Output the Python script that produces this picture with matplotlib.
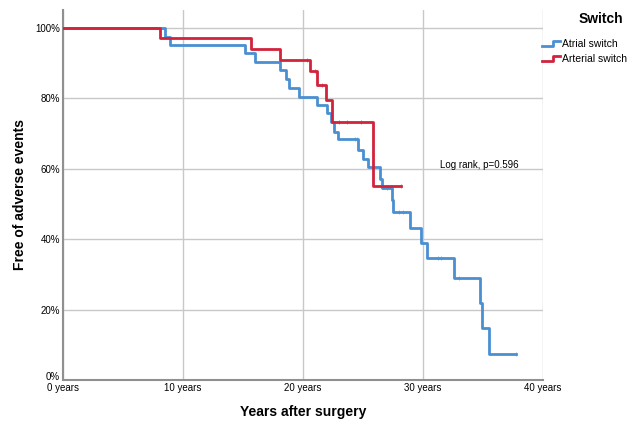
import matplotlib
matplotlib.use("Agg")
import matplotlib.pyplot as plt
from matplotlib.legend_handler import HandlerLine2D
from matplotlib.lines import Line2D
from matplotlib.transforms import ScaledTranslation

plt.rcParams['font.family'] = ['Liberation Sans', 'DejaVu Sans']

# ---------------------------
# Data (years, % event-free)
# ---------------------------
atrial_t = [0, 8.5, 8.9, 15.2, 16.0, 18.1, 18.55, 18.8, 19.7, 21.2, 22.0, 22.3, 22.6, 22.9,
            24.6, 25.0, 25.4, 26.4, 26.6, 27.4, 27.5, 28.9, 29.8, 30.3, 32.6, 34.7, 34.9, 35.5]
atrial_s = [100, 97.5, 95.2, 92.9, 90.4, 87.9, 85.5, 82.9, 80.3, 78.1, 75.8, 73.2, 70.5, 68.4,
            65.3, 62.9, 60.4, 57.2, 54.6, 51.1, 47.8, 43.3, 39.0, 34.6, 28.9, 21.8, 14.7, 7.4]
atrial_end = 37.7
atrial_cens_t = [24.3, 24.5, 27.0, 28.0, 28.3, 31.2, 31.5, 33.0, 37.7]
atrial_cens_s = [68.4, 68.4, 54.6, 47.8, 47.8, 34.6, 34.6, 28.9, 7.4]

arterial_t = [0, 8.1, 15.7, 18.1, 20.6, 21.2, 21.9, 22.45, 25.8]
arterial_s = [100, 97.1, 94.0, 90.9, 87.8, 83.8, 79.5, 73.4, 55.1]
arterial_end = 28.2
arterial_cens_t = [20.3, 21.0, 21.6, 23.0, 23.7, 24.8, 28.2]
arterial_cens_s = [90.9, 87.8, 83.8, 73.4, 73.4, 73.4, 55.1]

x_ticks = [0, 10, 20, 30, 40]
x_labels = ['0 years', '10 years', '20 years', '30 years', '40 years']
y_ticks = [0, 20, 40, 60, 80, 100]
y_labels = ['0%', '20%', '40%', '60%', '80%', '100%']

BLUE = '#4a8fd2'
RED = '#d2233c'


class StepHandler(HandlerLine2D):
    """Draws a small step shape as the legend key."""
    def create_artists(self, legend, orig_handle, xdescent, ydescent, width, height, fontsize, trans):
        x0, x1 = -xdescent, -xdescent + width
        y0, y1 = -ydescent + height * 0.15, -ydescent + height * 0.85
        xm = x0 + width * 0.6
        line = Line2D([x0, xm, xm, x1], [y0, y0, y1, y1],
                      color=orig_handle.get_color(), lw=orig_handle.get_linewidth())
        line.set_transform(trans)
        return [line]


def draw_curve(ax, t, s, end, ct, cs, color, label):
    xs = list(t) + [end]
    ys = list(s) + [s[-1]]
    ax.step(xs, ys, where='post', color=color, lw=2, label=label, zorder=3)
    ax.plot(ct, cs, ls='none', marker='|', ms=3.5, mew=0.6, color=color, alpha=0.7, zorder=3)


fig = plt.figure(figsize=(6.36, 4.22), dpi=100)
ax = fig.add_axes([0.099, 0.0995, 0.755, 0.877])

draw_curve(ax, atrial_t, atrial_s, atrial_end, atrial_cens_t, atrial_cens_s, BLUE, 'Atrial switch')
draw_curve(ax, arterial_t, arterial_s, arterial_end, arterial_cens_t, arterial_cens_s, RED, 'Arterial switch')

ax.set_xlim(0, 40)
ax.set_ylim(0, 105.1)
ax.set_xticks(x_ticks)
ax.set_xticklabels(x_labels, fontsize=7)
ax.set_yticks(y_ticks)
ax.set_yticklabels(y_labels, fontsize=7)
ax.tick_params(length=0, pad=2)
# lift the 0% label a little, as in the original
zero_lbl = ax.get_yticklabels()[0]
zero_lbl.set_transform(zero_lbl.get_transform() + ScaledTranslation(0, 3 / 72, fig.dpi_scale_trans))
ax.grid(True, color='#c8c8c8', lw=1)
ax.set_axisbelow(True)
for side in ['top', 'right']:
    ax.spines[side].set_visible(False)
for side in ['left', 'bottom']:
    ax.spines[side].set_color('#909090')
    ax.spines[side].set_linewidth(1.5)

ax.set_xlabel('Years after surgery', fontsize=10, fontweight='bold', labelpad=9)
ax.set_ylabel('Free of adverse events', fontsize=10, fontweight='bold', labelpad=6)

ax.text(31.4, 61, 'Log rank, p=0.596', fontsize=7, va='center', ha='left')

fig.text(0.945, 0.955, 'Switch', fontsize=10, fontweight='bold', ha='center', va='center')
handles, labels = ax.get_legend_handles_labels()
fig.legend(handles, labels, loc='upper left', bbox_to_anchor=(0.845, 0.918),
           frameon=False, fontsize=7.5, handlelength=1.8, handletextpad=0.15,
           labelspacing=0.55, borderaxespad=0,
           handler_map={Line2D: StepHandler()})

fig.savefig('out.png', dpi=100)
